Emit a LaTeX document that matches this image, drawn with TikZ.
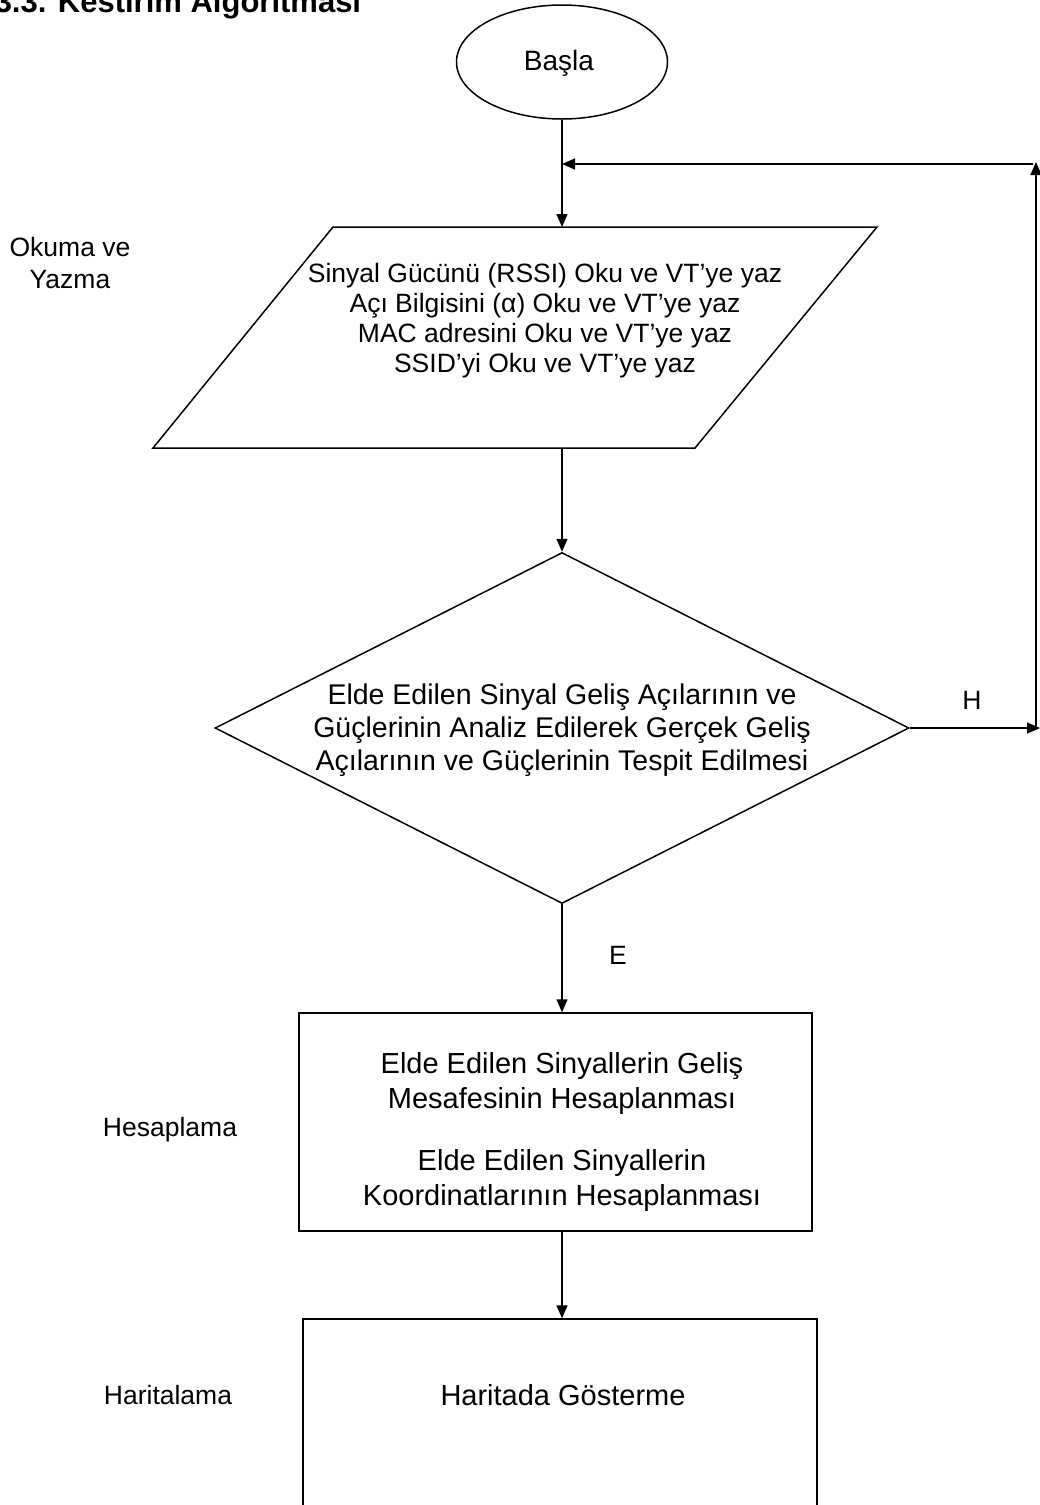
\documentclass[tikz,border=0pt]{standalone}
\usepackage{fontspec}
\setmainfont{Liberation Sans}
\usetikzlibrary{shapes.geometric,arrows.meta}
\begin{document}
\begin{tikzpicture}[x=1pt,y=-1pt, line width=1.5pt,
  txt/.style={font=\fontsize{26.5}{30}\selectfont, align=center, inner sep=0pt},
  bigtxt/.style={font=\fontsize{29}{34.5}\selectfont, align=center, inner sep=0pt},
  arr/.style={-{Triangle[length=13pt,width=11pt]}},
  box/.style={draw, rectangle, inner sep=0pt}
]
\path[use as bounding box] (0,0) rectangle (1040,1505);
\clip (0,0) rectangle (1040,1505);

% title (cut at top)
\node[anchor=base west, font=\bfseries\fontsize{31}{37}\selectfont, inner sep=0pt] (title) at (-6,12) {3.3. Kestirim Algoritması};

% start
\node[draw, ellipse, minimum width=211pt, minimum height=114pt] (start) at (562,62) {};
\node[anchor=base, font=\fontsize{28}{33}\selectfont, inner sep=0pt] (starttext) at (559,70) {Başla};

% parallelogram (input/output)
\coordinate (p1) at (333,227);
\coordinate (p2) at (877,227);
\coordinate (p3) at (695,448);
\coordinate (p4) at (153,448);
\draw (p1) -- (p2) -- (p3) -- (p4) -- cycle;
\coordinate (ptop) at (562,227);
\coordinate (pbot) at (562,448);
\node[txt] (ptext) at (545,321) {Sinyal Gücünü (RSSI) Oku ve VT’ye yaz\\Açı Bilgisini (α) Oku ve VT’ye yaz\\MAC adresini Oku ve VT’ye yaz\\SSID’yi Oku ve VT’ye yaz};

% decision
\node[draw, diamond, shape aspect=1.98, minimum width=694pt, minimum height=351pt, inner sep=0pt] (dec) at (562,728) {};
\node[font=\fontsize{28.5}{33}\selectfont, align=center, inner sep=0pt] (dectext) at (562,730) {Elde Edilen Sinyal Geliş Açılarının ve\\Güçlerinin Analiz Edilerek Gerçek Geliş\\Açılarının ve Güçlerinin Tespit Edilmesi};

% computation box
\node[box, minimum width=513pt, minimum height=218pt] (calc) at (555.5,1122) {};
\node[bigtxt] (calctext) at (562,1132) {Elde Edilen Sinyallerin Geliş\\Mesafesinin Hesaplanması\\[28pt]Elde Edilen Sinyallerin\\Koordinatlarının Hesaplanması};

% map box (continues below the page)
\node[box, minimum width=514pt, minimum height=300pt] (map) at (560,1469) {};
\node[bigtxt] (maptext) at (563,1395) {Haritada Gösterme};

% side labels
\node[font=\fontsize{26.5}{32}\selectfont, align=center, inner sep=0pt] (lab1) at (70,263) {Okuma ve\\Yazma};
\node[txt] (lab2) at (170,1130) {Hesaplama};
\node[txt] (lab3) at (168,1395) {Haritalama};
\node[txt] (labE) at (618,955) {E};
\node[txt] (labH) at (972,700) {H};

% loop coordinates
\coordinate (hend) at (1040,728);
\coordinate (vbot) at (1036,728);
\coordinate (vtop) at (1036,162);
\coordinate (ltop) at (1033,164);
\coordinate (lin) at (562,164);

% connectors
\draw[arr] (start.south) -- (ptop);
\draw[arr] (pbot) -- (dec.north);
\draw[arr] (dec.south) -- (dec.south |- calc.north);
\draw[arr] (dec.south |- calc.south) -- (dec.south |- map.north);
\draw[arr] (dec.east) -- (hend);
\draw[arr] (vbot) -- (vtop);
\draw[arr] (ltop) -- (lin);
\end{tikzpicture}
\end{document}
